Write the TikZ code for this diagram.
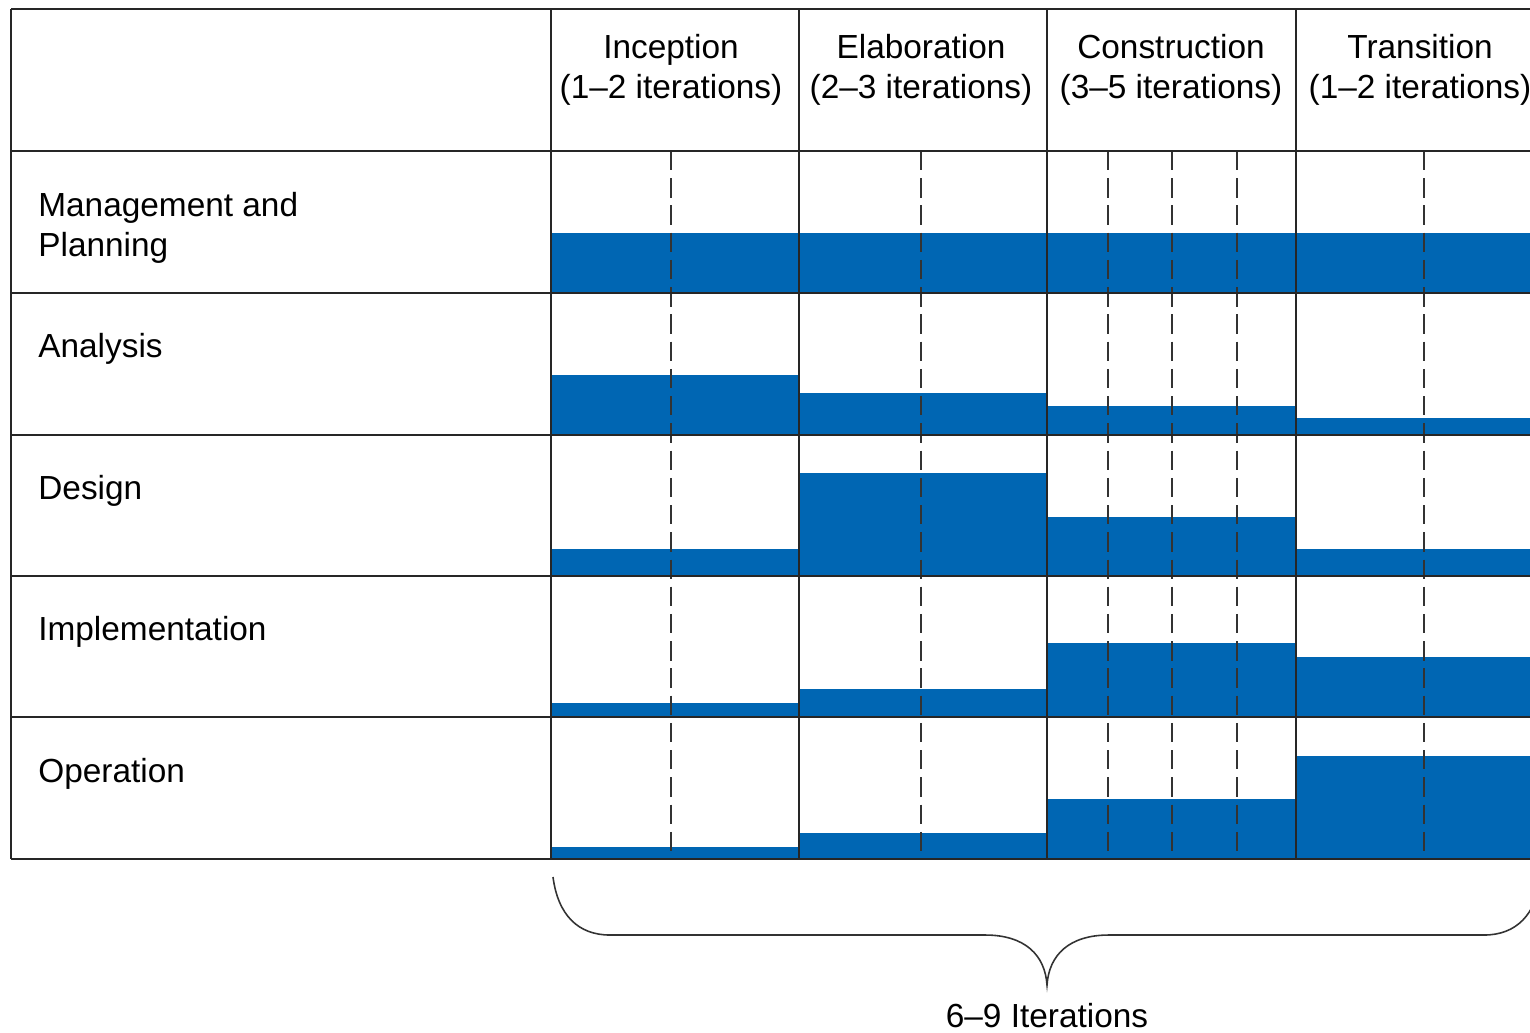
\documentclass[tikz,border=0pt]{standalone}
\usepackage{fontspec}
\setmainfont{Liberation Sans}
\definecolor{barblue}{RGB}{0,102,179}

\begin{document}
\begin{tikzpicture}[x=0.02cm,y=-0.02cm,
    grid/.style={line width=1.1pt,draw=black!85},
    iterline/.style={line width=1pt,draw=black!80,dash pattern=on 11pt off 4.5pt},
    rowlabel/.style={anchor=base west,align=left,inner sep=0pt,font=\fontsize{19}{22.7}\selectfont},
    phaselabel/.style={anchor=base,align=center,inner sep=0pt,font=\fontsize{19}{22.7}\selectfont}]
    \useasboundingbox (0,0) rectangle (1530,1032);

    % effort bars: row bottom / top in each phase
    \foreach \bot/\a/\b/\c/\d in {293/233/233/233/233, 435/375/393/406/418,
        576/549/473/517/549, 717/703/689/643/657, 859/847/833/799/756} {
        \fill[barblue] (551,\a) rectangle (799,\bot);
        \fill[barblue] (799,\b) rectangle (1047,\bot);
        \fill[barblue] (1047,\c) rectangle (1296,\bot);
        \fill[barblue] (1296,\d) rectangle (1545,\bot);
    }

    % iterations
    \foreach \x in {671,921,1108,1172,1237,1424}
        \draw[iterline] (\x,151) -- (\x,859);

    % table
    \foreach \y in {9,151,293,435,576,717,859}
        \draw[grid] (11,\y) -- (1545,\y);
    \foreach \x in {11,551,799,1047,1296}
        \draw[grid] (\x,9) -- (\x,859);

    \node[phaselabel] (incp) at (671,98) {Inception\\(1--2 iterations)};
    \node[phaselabel] (elab) at (921,98) {Elaboration\\(2--3 iterations)};
    \node[phaselabel] (cons) at (1171,98) {Construction\\(3--5 iterations)};
    \node[phaselabel] (trans) at (1420,98) {Transition\\(1--2 iterations)};

    \node[rowlabel] (mgmt) at (38,256) {Management and\\Planning};
    \node[rowlabel] (anls) at (38,357) {Analysis};
    \node[rowlabel] (dsgn) at (38,499) {Design};
    \node[rowlabel] (impl) at (38,640) {Implementation};
    \node[rowlabel] (oper) at (38,782) {Operation};

    % brace under the phases
    \draw[line width=0.9pt,black!80] (553,877) .. controls (558,915) and (578,935) .. (610,935)
        -- (985,935) .. controls (1025,935) and (1045,955) .. (1047,985)
        .. controls (1049,955) and (1069,935) .. (1109,935)
        -- (1484,935) .. controls (1516,935) and (1536,915) .. (1541,877);
    \node[phaselabel] (iters) at (1047,1027) {6--9 Iterations};
\end{tikzpicture}
\end{document}
